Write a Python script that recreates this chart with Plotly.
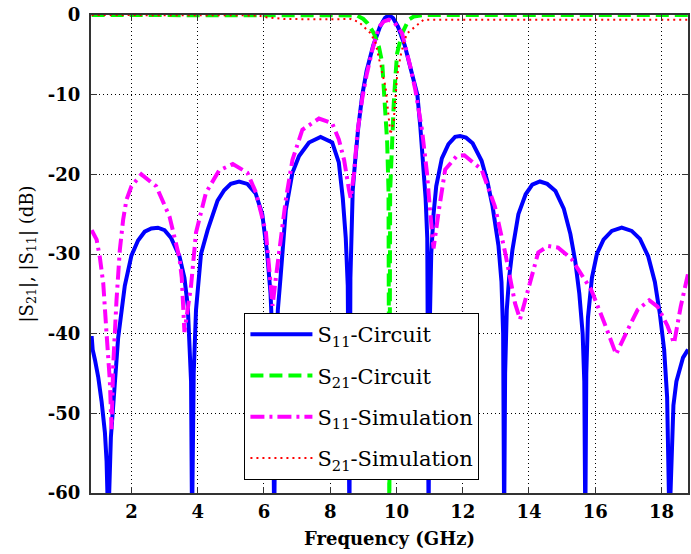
import plotly.graph_objects as go

# ---- data ----
f_s11_circuit = [0.80, 0.83, 0.90, 1.00, 1.10, 1.20, 1.25, 1.30, 1.38, 1.45, 1.60, 1.80, 2.00, 2.20,
                 2.40, 2.60, 2.80, 3.00, 3.20, 3.45, 3.60, 3.70, 3.76, 3.80, 3.83, 3.88, 3.95, 4.03,
                 4.10, 4.30, 4.45, 4.60, 4.80, 5.00, 5.25, 5.50, 5.75, 5.95, 6.10, 6.20, 6.26, 6.31,
                 6.35, 6.42, 6.50, 6.56, 6.66, 6.86, 7.06, 7.36, 7.71, 8.06, 8.26, 8.38, 8.47, 8.53,
                 8.58, 8.61, 8.64, 8.68, 8.75, 8.85, 8.97, 9.10, 9.30, 9.50, 9.65, 9.77, 9.90, 10.05,
                 10.25, 10.45, 10.63, 10.72, 10.82, 10.88, 10.93, 10.97, 11.00, 11.05, 11.12, 11.20,
                 11.37, 11.57, 11.77, 11.92, 12.10, 12.30, 12.57, 12.75, 12.90, 13.08, 13.17, 13.22,
                 13.25, 13.28, 13.33, 13.40, 13.50, 13.68, 13.90, 14.10, 14.33, 14.55, 14.80, 15.05,
                 15.25, 15.40, 15.52, 15.62, 15.67, 15.70, 15.73, 15.78, 15.90, 16.05, 16.25, 16.50,
                 16.80, 17.10, 17.35, 17.60, 17.80, 17.95, 18.08, 18.17, 18.24, 18.30, 18.36, 18.45,
                 18.55, 18.65, 18.80]
s11_circuit = [-40.3, -42.0, -43.3, -45.5, -48.5, -52.4, -56.0, -64.0, -53.0, -49.5, -40.5, -34.0,
               -30.2, -28.3, -27.2, -26.8, -26.7, -27.0, -28.0, -30.3, -33.0, -36.5, -41.0, -46.0,
               -64.0, -45.0, -37.0, -32.5, -30.0, -27.0, -25.0, -23.3, -22.0, -21.2, -20.9, -21.2,
               -22.4, -25.0, -30.0, -35.0, -41.0, -64.0, -45.0, -37.0, -33.0, -29.8, -24.5, -19.8,
               -17.7, -16.0, -15.3, -16.0, -18.5, -23.0, -28.0, -34.0, -64.0, -33.0, -26.0, -22.0,
               -18.5, -14.0, -10.0, -7.0, -3.8, -1.5, -0.4, 0.0, -0.4, -1.5, -3.8, -7.0, -10.0,
               -14.0, -19.5, -23.0, -28.0, -64.0, -40.0, -30.0, -25.0, -21.5, -18.0, -16.2, -15.3,
               -15.2, -15.4, -16.1, -18.3, -21.0, -24.0, -29.0, -33.5, -40.0, -64.0, -45.0, -37.0,
               -33.0, -29.5, -25.0, -22.5, -21.3, -20.9, -21.2, -22.1, -24.3, -27.5, -31.0, -35.0,
               -40.0, -46.0, -64.0, -45.0, -38.0, -33.0, -30.0, -28.2, -27.1, -26.7, -27.1, -28.1,
               -30.3, -33.5, -37.5, -42.0, -48.0, -64.0, -54.0, -49.0, -46.0, -44.3, -43.0, -42.0]

f_s21_circuit = [0.80, 8.80, 9.00, 9.12, 9.32, 9.47, 9.57, 9.62, 9.67, 9.72, 9.76, 9.785, 9.81,
                 9.85, 9.87, 9.92, 9.97, 10.02, 10.17, 10.37, 10.52, 10.80, 18.80]
s21_circuit = [0.0, -0.05, -0.5, -1.0, -2.3, -4.0, -6.0, -9.5, -12.7, -16.0, -22.0, -64.0, -22.0,
               -17.0, -14.0, -11.0, -7.7, -4.8, -2.3, -0.6, -0.2, 0.0, 0.0]

f_s11_sim = [0.80, 0.95, 1.05, 1.15, 1.25, 1.35, 1.40, 1.45, 1.55, 1.65, 1.75, 1.85, 2.00, 2.30,
             2.75, 3.15, 3.45, 3.52, 3.60, 3.70, 3.80, 3.95, 4.25, 4.65, 5.06, 5.50, 5.76, 6.06,
             6.15, 6.26, 6.36, 6.46, 6.66, 6.86, 7.16, 7.66, 8.06, 8.26, 8.42, 8.57, 8.62, 8.72,
             8.82, 8.97, 9.10, 9.27, 9.47, 9.62, 9.77, 9.95, 10.17, 10.42, 10.57, 10.77, 10.92,
             11.02, 11.12, 11.27, 11.47, 11.82, 12.05, 12.57, 12.97, 13.28, 13.58, 13.73, 13.93,
             14.08, 14.28, 14.58, 14.88, 15.28, 15.88, 16.28, 16.63, 16.98, 17.28, 17.63, 17.88,
             18.18, 18.38, 18.58, 18.80]
s11_sim = [-27.0, -28.2, -30.5, -33.7, -40.0, -46.0, -52.0, -44.0, -35.8, -29.5, -25.7, -23.2,
           -21.5, -20.0, -21.5, -25.3, -30.5, -33.0, -39.8, -37.0, -34.0, -27.3, -22.3, -19.5,
           -18.7, -19.8, -22.3, -27.3, -31.5, -36.5, -33.0, -29.8, -23.2, -18.2, -14.4, -13.0,
           -13.6, -15.6, -18.2, -22.0, -23.0, -19.8, -14.8, -10.4, -7.5, -4.4, -1.5, -0.8, -0.6,
           -1.0, -2.3, -6.5, -9.4, -14.4, -19.8, -24.8, -29.3, -24.8, -19.4, -17.7, -17.6, -19.4,
           -24.0, -29.8, -36.2, -38.2, -35.3, -32.8, -29.8, -29.0, -29.2, -30.6, -34.5, -38.7,
           -42.6, -39.5, -37.0, -35.8, -36.6, -39.0, -41.2, -36.6, -32.5]

f_s21_sim = [0.80, 5.80, 6.10, 6.60, 8.00, 8.62, 8.87, 9.22, 9.37, 9.47, 9.57, 9.67, 9.72, 9.82,
             9.92, 10.02, 10.12, 10.22, 10.32, 10.57, 10.82, 12.00, 18.80]
s21_sim = [0.0, -0.05, -0.3, -0.5, -0.55, -0.5, -0.9, -2.3, -3.5, -5.6, -7.3, -9.0, -11.0, -15.0,
           -13.2, -7.7, -5.2, -3.5, -2.3, -1.5, -0.6, -0.6, -0.6]

x_ticks = [2, 4, 6, 8, 10, 12, 14, 16, 18]
x_tick_labels = ["2", "4", "6", "8", "10", "12", "14", "16", "18"]
y_ticks = [0, -10, -20, -30, -40, -50, -60]
y_tick_labels = ["0", "-10", "-20", "-30", "-40", "-50", "-60"]

FONT = "DejaVu Serif"

fig = go.Figure()
fig.add_trace(go.Scatter(x=f_s11_circuit, y=s11_circuit, mode="lines",
                         name="S<sub>11</sub>-Circuit", legendgroup="a",
                         line=dict(color="#0000FF", width=4)))
fig.add_trace(go.Scatter(x=f_s21_circuit, y=s21_circuit, mode="lines",
                         name="S<sub>21</sub>-Circuit", legendgroup="b",
                         line=dict(color="#00FF00", width=4, dash="13px,6px")))
fig.add_trace(go.Scatter(x=f_s11_sim, y=s11_sim, mode="lines",
                         name="S<sub>11</sub>-Simulation", legendgroup="c",
                         line=dict(color="#FF00FF", width=4, dash="14px,5px,3px,5px")))
fig.add_trace(go.Scatter(x=f_s21_sim, y=s21_sim, mode="lines",
                         name="S<sub>21</sub>-Simulation", legendgroup="d",
                         line=dict(color="#FF0000", width=2, dash="2px,4px")))

axis_common = dict(
    showgrid=True, gridcolor="black", gridwidth=1, griddash="1px,3px",
    showline=True, linecolor="#333333", linewidth=2, mirror="allticks",
    ticks="inside", ticklen=6, tickcolor="#333333", tickwidth=1,
    zeroline=False, tickfont=dict(family=FONT, size=18, color="black", weight="bold"),
)

fig.update_xaxes(range=[0.78, 18.8], tickvals=x_ticks, ticktext=x_tick_labels,
                 title=dict(text="Frequency (GHz)",
                            font=dict(family=FONT, size=18, color="black", weight="bold"),
                            standoff=12),
                 ticklabelstandoff=1, **axis_common)
fig.update_yaxes(range=[-60, 0], tickvals=y_ticks, ticktext=y_tick_labels,
                 title=dict(text="|S<sub>21</sub>|, |S<sub>11</sub>| (dB)",
                            font=dict(family=FONT, size=18, color="black"), standoff=10),
                 ticklabelstandoff=5, **axis_common)

fig.update_layout(
    width=691, height=554,
    margin=dict(l=91, r=1, t=15, b=61),
    paper_bgcolor="white", plot_bgcolor="white",
    font=dict(family=FONT, color="black"),
    legend=dict(x=0.257, y=0.3766, xanchor="left", yanchor="top",
                bgcolor="white", bordercolor="black", borderwidth=1,
                font=dict(family=FONT, size=21, color="black"),
                tracegroupgap=11, itemwidth=62),
    showlegend=True,
)

fig.write_html("out.html")
